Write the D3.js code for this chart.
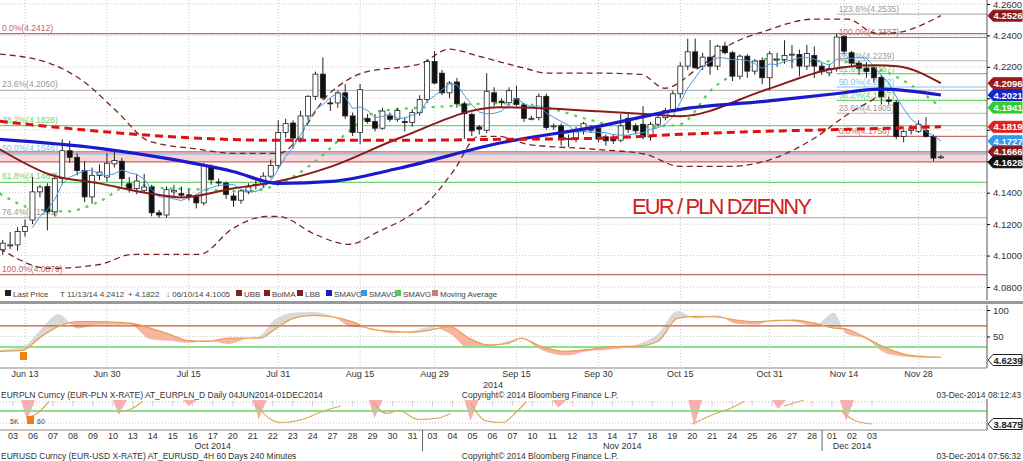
<!DOCTYPE html>
<html><head><meta charset="utf-8">
<script src="https://cdn.jsdelivr.net/npm/d3@7"></script>
<style>body{margin:0;background:#fff}svg{display:block;font-family:"Liberation Sans",Arial,sans-serif}</style>
</head><body>
<script>
// ---------- DATA ----------
const opens=[4.1037,4.1068,4.1068,4.1153,4.1226,4.1405,4.1440,4.1278,4.1489,4.1667,4.1625,4.1541,4.1373,4.1510,4.1499,4.1583,4.1600,4.1457,4.1426,4.1415,4.1436,4.1272,4.1258,4.1405,4.1394,4.1386,4.1373,4.1335,4.1566,4.1468,4.1461,4.1379,4.1352,4.1405,4.1453,4.1453,4.1505,4.1573,4.1783,4.1843,4.1747,4.1888,4.2013,4.2154,4.1971,4.1971,4.2035,4.1888,4.1783,4.1873,4.1852,4.1810,4.1888,4.1867,4.1852,4.1846,4.1909,4.1993,4.2234,4.2160,4.2035,4.2104,4.1965,4.1898,4.1818,4.1797,4.2035,4.1982,4.1972,4.1999,4.1957,4.1873,4.1877,4.2013,4.1825,4.1825,4.1741,4.1741,4.1793,4.1803,4.1810,4.1755,4.1751,4.1734,4.1873,4.1825,4.1835,4.1755,4.1835,4.1877,4.1929,4.2029,4.2205,4.2296,4.2205,4.2262,4.2205,4.2332,4.2290,4.2141,4.2268,4.2173,4.2241,4.2131,4.2247,4.2247,4.2279,4.2279,4.2205,4.2273,4.2205,4.2162,4.2192,4.2395,4.2290,4.2224,4.2192,4.2194,4.2134,4.1990,4.1975,4.1758,4.1795,4.1790,4.1796,4.1758,4.1625];
const highs=[4.1100,4.1150,4.1180,4.1230,4.1500,4.1450,4.1460,4.1520,4.1740,4.1730,4.1650,4.1600,4.1560,4.1580,4.1650,4.1660,4.1620,4.1500,4.1520,4.1520,4.1450,4.1290,4.1440,4.1450,4.1440,4.1420,4.1390,4.1590,4.1580,4.1490,4.1470,4.1400,4.1420,4.1460,4.1490,4.1530,4.1610,4.1860,4.1870,4.1860,4.1920,4.2020,4.2170,4.2260,4.2000,4.2050,4.2090,4.1910,4.2090,4.1900,4.1900,4.1940,4.1910,4.1940,4.1880,4.1930,4.2020,4.2250,4.2300,4.2180,4.2110,4.2130,4.1980,4.1910,4.1830,4.2160,4.2070,4.2000,4.2070,4.2080,4.1970,4.1890,4.2030,4.2030,4.1840,4.1840,4.1770,4.1820,4.1850,4.1830,4.1830,4.1770,4.1770,4.1900,4.1900,4.1840,4.1950,4.1850,4.1900,4.1940,4.2050,4.2230,4.2380,4.2380,4.2290,4.2370,4.2340,4.2360,4.2300,4.2280,4.2280,4.2250,4.2260,4.2300,4.2290,4.2370,4.2340,4.2310,4.2340,4.2330,4.2230,4.2220,4.2412,4.2400,4.2300,4.2240,4.2230,4.2200,4.2150,4.2010,4.1990,4.1800,4.1830,4.1860,4.1880,4.1770,4.1640];
const lows=[4.1005,4.1040,4.1030,4.1120,4.1200,4.1370,4.1160,4.1250,4.1460,4.1590,4.1510,4.1340,4.1330,4.1480,4.1470,4.1560,4.1440,4.1400,4.1390,4.1400,4.1250,4.1240,4.1240,4.1380,4.1370,4.1350,4.1300,4.1320,4.1450,4.1440,4.1360,4.1310,4.1330,4.1390,4.1420,4.1430,4.1490,4.1550,4.1750,4.1680,4.1720,4.1860,4.1990,4.1990,4.1920,4.1940,4.1870,4.1760,4.1710,4.1840,4.1790,4.1800,4.1850,4.1850,4.1790,4.1820,4.1890,4.1970,4.2090,4.2020,4.2000,4.1940,4.1740,4.1760,4.1770,4.1780,4.1950,4.1940,4.1950,4.1950,4.1850,4.1860,4.1860,4.1800,4.1800,4.1700,4.1690,4.1720,4.1770,4.1780,4.1720,4.1700,4.1710,4.1720,4.1780,4.1770,4.1740,4.1730,4.1820,4.1860,4.1910,4.2000,4.2180,4.2190,4.2180,4.2150,4.2180,4.2280,4.2110,4.2120,4.2130,4.2150,4.2090,4.2050,4.2200,4.2220,4.2190,4.2140,4.2180,4.2130,4.2150,4.2140,4.2170,4.2280,4.2200,4.2150,4.2130,4.2100,4.1960,4.1960,4.1740,4.1720,4.1770,4.1780,4.1750,4.1600,4.1615];
const closes=[4.1079,4.1068,4.1153,4.1184,4.1405,4.1436,4.1278,4.1489,4.1667,4.1625,4.1541,4.1373,4.1510,4.1531,4.1587,4.1604,4.1489,4.1426,4.1474,4.1436,4.1272,4.1258,4.1419,4.1415,4.1384,4.1379,4.1335,4.1573,4.1482,4.1466,4.1388,4.1352,4.1411,4.1436,4.1450,4.1505,4.1573,4.1783,4.1839,4.1747,4.1888,4.2013,4.2154,4.2003,4.1965,4.2035,4.1888,4.1783,4.2055,4.1852,4.1810,4.1919,4.1867,4.1923,4.1850,4.1909,4.1993,4.2234,4.2097,4.2035,4.2097,4.1965,4.1902,4.1793,4.1804,4.2045,4.1978,4.1972,4.2049,4.1961,4.1873,4.1873,4.2013,4.1814,4.1825,4.1741,4.1745,4.1793,4.1839,4.1803,4.1741,4.1730,4.1730,4.1825,4.1803,4.1793,4.1755,4.1835,4.1877,4.1923,4.2029,4.2205,4.2296,4.2194,4.2262,4.2205,4.2332,4.2290,4.2141,4.2268,4.2173,4.2237,4.2131,4.2283,4.2250,4.2273,4.2281,4.2205,4.2285,4.2205,4.2169,4.2190,4.2390,4.2300,4.2224,4.2192,4.2171,4.2130,4.2010,4.1981,4.1758,4.1790,4.1805,4.1835,4.1758,4.1620,4.1628];
// indicator lines: [bar number, value]
const smaLong=[[0.6,4.1739],[14,4.1682],[23,4.1618],[31.9,4.1535],[38,4.1459],[45.2,4.1472],[54.2,4.1555],[67.6,4.1714],[81,4.1822],[92,4.1930],[103.3,4.1981],[112.2,4.2026],[118.9,4.2058],[127,4.2021]];
const bolMA=[[0.6,4.1676],[7.3,4.1516],[14,4.1459],[20.7,4.1395],[25.1,4.1370],[31.9,4.1427],[38,4.1472],[45.2,4.1567],[54.2,4.1746],[67.6,4.1943],[81,4.1918],[87.7,4.1899],[92,4.1886],[103.3,4.2051],[112.2,4.2185],[118.2,4.2211],[121.2,4.2204],[127,4.2096]];
const movAvg=[[0.6,4.1854],[14,4.1790],[27.4,4.1746],[38,4.1733],[54.2,4.1733],[67.6,4.1739],[81,4.1746],[92,4.1771],[103.3,4.1790],[114.5,4.1803],[127,4.1819]];
const smaMid=[[0.6,4.1395],[5,4.1300],[9.6,4.1281],[14,4.1344],[18.4,4.1453],[23,4.1427],[27.4,4.1421],[34,4.1408],[38,4.1453],[43,4.1599],[47.5,4.1790],[51.5,4.1918],[60.9,4.1950],[67.2,4.1969],[71.6,4.1962],[80.6,4.1854],[85,4.1809],[89.4,4.1822],[92,4.1835],[96.4,4.2064],[100.8,4.2192],[103.3,4.2249],[107.8,4.2236],[112.2,4.2236],[118.2,4.2192],[122.6,4.2096],[127,4.1941]];
const upperBB=[[0.6,4.2281],[7.3,4.2223],[11.8,4.2109],[16.3,4.1918],[20.7,4.1727],[27.4,4.1676],[31.9,4.1650],[38,4.1650],[45.2,4.2045],[49.2,4.2160],[57.3,4.2223],[60.9,4.2313],[64.9,4.2268],[71.6,4.2185],[73.9,4.2160],[81,4.2160],[86.7,4.2153],[89.9,4.2064],[94.4,4.2192],[98.8,4.2344],[103.3,4.2427],[110,4.2504],[114.5,4.2504],[118.2,4.2415],[120.2,4.2415],[127,4.2526]];
const lowerBB=[[0.6,4.1045],[7.3,4.0918],[14,4.0943],[18.4,4.1007],[27.4,4.1007],[31.9,4.1172],[36.4,4.1249],[38,4.1249],[43,4.1134],[47.5,4.1071],[51.5,4.1153],[55.5,4.1249],[58.2,4.1344],[61.5,4.1535],[64.9,4.1758],[67.6,4.1758],[71.6,4.1707],[80.6,4.1676],[87.3,4.1644],[92,4.1567],[98.8,4.1567],[103.3,4.1599],[110,4.1746],[114.5,4.1899],[118.2,4.2001],[120.2,4.2058]];
const xTickLabels=["Jun 13","Jun 30","Jul 15","Jul 31","Aug 15","Aug 29","Sep 15","Sep 30","Oct 15","Oct 31","Nov 14","Nov 28"];
const yTicks=[4.08,4.10,4.12,4.14,4.16,4.18,4.20,4.22,4.24,4.26];
const fibLeft=[["0.0%",4.2412,"#b86a6a"],["23.6%",4.2050,"#b8b8b8"],["38.2%",4.1826,"#6fd36f"],["50.0%",4.1646,"#86c4ee"],["61.8%",4.1465,"#6fd36f"],["76.4%",4.1241,"#b8b8b8"],["100.0%",4.0879,"#b86a6a"]];
const fibRight=[["123.6%",4.2535,"#b8b8b8"],["100.0%",4.2387,"#c07070"],["76.4%",4.2239,"#b8b8b8"],["61.8%",4.2157,"#6fd36f"],["50.0%",4.2072,"#86c4ee"],["38.2%",4.1987,"#6fd36f"],["23.6%",4.1905,"#b8b8b8"],["0.0%",4.1758,"#c07070"]];
const band=[4.1596,4.1660];
const lastLabels=[[4.2526,"#8b1a1a"],[4.2096,"#9b1b1b"],[4.2021,"#1428c8"],[4.1941,"#33cc33"],[4.1819,"#e02020"],[4.1727,"#3399ee"],[4.1666,"#8b1a1a"],[4.1628,"#111"]];
// oscillator panel
const oscSlow=[[0.6,22],[3.7,24],[5.9,47],[8.5,69],[11.1,78],[13.8,78],[18.1,75],[20.8,66],[23.4,54],[26,42],[28.6,41],[31.3,47],[33.8,47],[35.6,47],[37.4,62],[40,84],[42.6,90],[45.3,87],[47.9,78],[50.5,64],[53.1,60],[55.8,58],[58.4,62],[61,69],[63.6,47],[66.2,34],[68.9,37],[70.6,47],[73.3,31],[76.8,22],[79.4,25],[82.9,31],[86.4,32],[89,41],[91.6,84],[94.2,88],[96.9,87],[99.5,81],[102.1,78],[104.8,80],[107.4,81],[110,75],[112.6,66],[114.3,64],[117,47],[119.7,28],[122.3,16],[124.9,12],[127,11]];
const oscFast=[[0.6,25],[3.7,30],[5.9,60],[8.5,92],[11.1,65],[13.8,72],[18.1,72],[20.8,45],[23.4,42],[26,38],[28.6,42],[31.3,36],[33.8,46],[35.6,52],[37.4,80],[40,95],[42.6,96],[45.3,88],[47.9,68],[50.5,66],[53.1,56],[55.8,60],[58.4,68],[61,56],[63.6,28],[66.2,30],[68.9,42],[70.6,46],[73.3,25],[76.8,14],[79.4,22],[82.9,26],[86.4,36],[89,55],[91.6,98],[94.2,84],[96.9,90],[99.5,74],[102.1,72],[104.8,82],[107.4,78],[110,70],[112.6,95],[114.3,55],[117,45],[119.7,18],[122.3,12],[124.9,10],[127,10]];
const oscLevels=[[70,"#b8603a"],[30,"#8ee08e"]];
// EURUSD strip
const usdDays=["03","06","07","08","09","10","13","14","15","16","17","20","21","22","23","24","27","28","29","30","31","03","04","05","06","07","10","11","12","13","14","17","18","19","20","21","24","25","26","27","28","01","02","03"];
const usdMonths=[["Oct 2014",0,20],["Nov 2014",21,40],["Dec 2014",41,43]];
const usdSegs=[[[0.65,40],[1.3,60],[1.8,95]],[[5.2,60],[5.9,70],[6.5,95]],[[12.1,90],[12.8,40],[13.4,25],[14.7,40],[15.4,60],[16.4,80]],[[18,95],[18.7,55],[19.3,65],[20.3,35],[21.3,40],[21.9,55]],[[22.9,90],[23.7,30],[24.5,25],[25.2,60],[25.7,95]],[[34,20],[35,50],[36,75],[36.6,95]],[[38.6,80],[39.6,100]],[[41.5,60],[42.2,30],[43,20]]];
const usdSpikes=[[0.4,30],[5,50],[8.5,80],[12,35],[17.8,40],[22.6,30],[27,75],[33.8,15],[38,70],[41.4,30]];

// ---------- CHART ----------
const W=1023,H=461,AX=987;
const svg=d3.select("body").append("svg").attr("width",W).attr("height",H);
const start=new Date(2014,5,10);
const dates=[];for(let d=new Date(start);dates.length<closes.length;d.setDate(d.getDate()+1)){if(d.getDay()%6)dates.push(new Date(d));}
const fmt2=d=>d3.timeFormat("%b")(d)+" "+(+d3.timeFormat("%d")(d));
const x=d3.scaleLinear().domain([1,closes.length]).range([2.7,940.9]);
const y=d3.scaleLinear().domain([4.08,4.26]).range([287,4]);
const tickIdx=xTickLabels.map(l=>dates.findIndex(d=>fmt2(d)===l)+1);

const g=svg.append("g");
g.selectAll(".hg").data(yTicks).join("line").attr("x1",0).attr("x2",AX).attr("y1",d=>y(d)).attr("y2",d=>y(d)).attr("stroke","#c8c8c8").attr("stroke-dasharray","1,2");
g.selectAll(".vg").data(tickIdx).join("line").attr("x1",d=>x(d)).attr("x2",d=>x(d)).attr("y1",0).attr("y2",300).attr("stroke","#c8c8c8").attr("stroke-dasharray","1,2");
g.append("rect").attr("x",0).attr("width",AX).attr("y",y(band[1])).attr("height",y(band[0])-y(band[1])).attr("fill","#f9d6d6");
band.forEach(v=>g.append("line").attr("x1",0).attr("x2",AX).attr("y1",y(v)).attr("y2",y(v)).attr("stroke","#d06060").attr("stroke-width",1.2));
fibLeft.forEach(([l,v,c])=>{g.append("line").attr("x1",0).attr("x2",AX).attr("y1",y(v)).attr("y2",y(v)).attr("stroke",c).attr("stroke-width",1.3);
 g.append("text").attr("x",2).attr("y",y(v)-3).attr("font-size",8.5).attr("fill",c==="#b8b8b8"?"#999":c).text(`${l}(${v.toFixed(4)})`);});
fibRight.forEach(([l,v,c])=>{g.append("line").attr("x1",x(113)).attr("x2",AX).attr("y1",y(v)).attr("y2",y(v)).attr("stroke",c).attr("stroke-width",1.2);
 g.append("text").attr("x",x(113)+2).attr("y",y(v)-2).attr("font-size",8.5).attr("fill",c==="#b8b8b8"?"#999":c).text(`${l}(${v.toFixed(4)})`);});

const ln=d3.line().x(d=>x(d[0])).y(d=>y(d[1])).curve(d3.curveMonotoneX);
[upperBB,lowerBB].forEach(s=>svg.append("path").attr("d",ln(s)).attr("fill","none").attr("stroke","#7b2424").attr("stroke-width",1.3).attr("stroke-dasharray","6,4"));
svg.append("path").attr("d",ln(smaMid)).attr("fill","none").attr("stroke","#4fd04f").attr("stroke-width",2.2).attr("stroke-dasharray","3,6");

const cw=5;
const cg=svg.append("g");
closes.forEach((c,i)=>{const o=opens[i],n=i+1,up=c>=o;
 cg.append("line").attr("x1",x(n)).attr("x2",x(n)).attr("y1",y(highs[i])).attr("y2",y(lows[i])).attr("stroke","#222");
 cg.append("rect").attr("x",x(n)-cw/2).attr("width",cw).attr("y",y(Math.max(o,c))).attr("height",Math.max(1,Math.abs(y(o)-y(c)))).attr("fill",up?"#fff":"#111").attr("stroke","#222").attr("stroke-width",0.8);});
const sma5=closes.map((c,i)=>i<4?null:[i+1,d3.mean(closes.slice(i-4,i+1))]).filter(Boolean);
svg.append("path").attr("d",d3.line().x(d=>x(d[0])).y(d=>y(d[1]))(sma5)).attr("fill","none").attr("stroke","#4a9ae0").attr("stroke-width",1);
svg.append("path").attr("d",ln(bolMA)).attr("fill","none").attr("stroke","#8b1a1a").attr("stroke-width",2);
svg.append("path").attr("d",ln(smaLong)).attr("fill","none").attr("stroke","#1a1acc").attr("stroke-width",3.2);
svg.append("path").attr("d",ln(movAvg)).attr("fill","none").attr("stroke","#dd1111").attr("stroke-width",3).attr("stroke-dasharray","8,5");

svg.append("text").attr("x",632).attr("y",214).attr("font-size",22).attr("fill","#d02020").attr("textLength",180).text("EUR / PLN DZIENNY");

// right axis
svg.append("rect").attr("x",AX).attr("y",0).attr("width",W-AX).attr("height",H).attr("fill","#fff");
svg.append("line").attr("x1",AX).attr("x2",AX).attr("y1",0).attr("y2",300).attr("stroke","#555");
// tag positions (nudged apart like the terminal does)
const tagY=lastLabels.map(d=>y(d[0]));
for(let i=1;i<tagY.length;i++) if(tagY[i]-tagY[i-1]<10.5) tagY[i]=tagY[i-1]+10.5;
const visTicks=yTicks.filter(t=>tagY.every(ty=>Math.abs(ty-y(t))>9));
const ax=svg.append("g").attr("transform",`translate(${AX},0)`).call(d3.axisRight(y).tickValues(yTicks).tickFormat(d=>visTicks.includes(d)?d3.format(".4f")(d):"").tickSize(3));
ax.select(".domain").remove();ax.selectAll("text").attr("font-size",9.5).attr("fill","#333");
const tag=(yy,txt,bg,fg,border)=>{const gg=svg.append("g").attr("transform",`translate(${AX+1},${yy})`);
 gg.append("path").attr("d","M0,0 L5,-5.5 H34 V5.5 H5 Z").attr("fill",bg).attr("stroke",border||bg);
 gg.append("text").attr("x",20).attr("y",3.5).attr("text-anchor","middle").attr("font-size",9.5).attr("font-weight","bold").attr("fill",fg).text(txt);};
lastLabels.forEach(([v,bg],i)=>tag(tagY[i],v.toFixed(4),bg,"#fff"));

// legend row
const lg=svg.append("g").attr("font-size",8).attr("fill","#444");
const legend=[[5,"#222","Last Price"],[60,null,"T 11/13/14 4.2412"],[128,null,"+ 4.1822"],[166,null,"↓ 06/10/14 4.1005"],[236,"#7b2424","UBB"],[264,"#8b1a1a","BolMA"],[297,"#7b2424","LBB"],[326,"#1a1acc","SMAVG"],[361,"#3399ee","SMAVG"],[395,"#4fd04f","SMAVG"],[432,"#c08080","Moving Average"]];
legend.forEach(([lx,c,t])=>{if(c){lg.append("rect").attr("x",lx).attr("y",290).attr("width",6).attr("height",6).attr("fill",c);lg.append("text").attr("x",lx+8).attr("y",296.5).text(t);}else lg.append("text").attr("x",lx).attr("y",296.5).text(t);});
svg.append("rect").attr("x",0).attr("y",301).attr("width",W).attr("height",3).attr("fill","#999");

// oscillator panel
const yo=d3.scaleLinear().domain([0,100]).range([363,310]);
const p=svg.append("g");
[100,50].forEach(v=>p.append("line").attr("x1",0).attr("x2",AX).attr("y1",yo(v)).attr("y2",yo(v)).attr("stroke","#c8c8c8").attr("stroke-dasharray","1,2"));
p.selectAll(".ovg").data(tickIdx).join("line").attr("x1",d=>x(d)).attr("x2",d=>x(d)).attr("y1",305).attr("y2",368).attr("stroke","#c8c8c8").attr("stroke-dasharray","1,2");
const oscArea=d3.area().x(d=>x(d[0])).y0((d,i)=>yo(oscSlow[i][1])).y1(d=>yo(d[1])).curve(d3.curveMonotoneX);
const lo=d3.line().x(d=>x(d[0])).y(d=>yo(d[1])).curve(d3.curveMonotoneX);
const defs=svg.append("defs");
defs.append("clipPath").attr("id","above").append("path").attr("d",d3.area().x(d=>x(d[0])).y0(yo(100)-5).y1(d=>yo(d[1])).curve(d3.curveMonotoneX)(oscSlow));
defs.append("clipPath").attr("id","below").append("path").attr("d",d3.area().x(d=>x(d[0])).y0(yo(0)+5).y1(d=>yo(d[1])).curve(d3.curveMonotoneX)(oscSlow));
p.append("path").attr("d",oscArea(oscFast)).attr("fill","#d9d9d9").attr("clip-path","url(#above)");
p.append("path").attr("d",oscArea(oscFast)).attr("fill","#f8b4a0").attr("clip-path","url(#below)");
oscLevels.forEach(([v,c])=>p.append("line").attr("x1",0).attr("x2",AX).attr("y1",yo(v)).attr("y2",yo(v)).attr("stroke",c).attr("stroke-width",v===30?2:1.3));
p.append("path").attr("d",lo(oscSlow)).attr("fill","none").attr("stroke","#e6a050").attr("stroke-width",1.3);
p.append("rect").attr("x",20).attr("y",352).attr("width",7).attr("height",8).attr("fill","#f08010");
svg.append("line").attr("x1",AX).attr("x2",AX).attr("y1",305).attr("y2",368).attr("stroke","#555");
const ao=svg.append("g").attr("transform",`translate(${AX},0)`).call(d3.axisRight(yo).tickValues([100,50]).tickSize(3));
ao.select(".domain").remove();ao.selectAll("text").attr("font-size",9.5).attr("fill","#333");
tag(360,"4.6239","#fff","#222","#222");
svg.append("line").attr("x1",0).attr("x2",AX).attr("y1",368).attr("y2",368).attr("stroke","#888");
svg.selectAll(".xl").data(xTickLabels).join("text").attr("x",(d,i)=>x(tickIdx[i])).attr("y",377).attr("text-anchor","middle").attr("font-size",9).attr("fill","#333").text(d=>d);
svg.append("text").attr("x",493).attr("y",388).attr("text-anchor","middle").attr("font-size",9).attr("fill","#333").text("2014");
const info=(yy,a,b,c)=>{svg.append("text").attr("x",1).attr("y",yy).attr("font-size",8.5).attr("fill","#333").text(a);
 svg.append("text").attr("x",540).attr("y",yy).attr("text-anchor","middle").attr("font-size",8.5).attr("fill","#333").text(b);
 svg.append("text").attr("x",1021).attr("y",yy).attr("text-anchor","end").attr("font-size",8.5).attr("fill","#333").text(c);};
info(398,"EURPLN Curncy (EUR-PLN X-RATE) AT_EURPLN_D  Daily 04JUN2014-01DEC2014","Copyright© 2014 Bloomberg Finance L.P.","03-Dec-2014 08:12:43");

// EURUSD strip
const xu=d3.scaleLinear().domain([0,usdDays.length-1]).range([13,872]);
const yu=d3.scaleLinear().domain([0,100]).range([430,400]);
const s=svg.append("g");
[402,423].forEach(yy=>s.append("line").attr("x1",0).attr("x2",AX).attr("y1",yy).attr("y2",yy).attr("stroke","#bbb").attr("stroke-dasharray","1,2"));
usdDays.forEach((d,i)=>s.append("line").attr("x1",xu(i)).attr("x2",xu(i)).attr("y1",401).attr("y2",407).attr("stroke","#aaa").attr("stroke-dasharray","1,1"));
usdSpikes.forEach(([i,v])=>s.append("path").attr("d",`M${xu(i)},${yu(100)} L${xu(i+0.3)},${yu(v)} L${xu(i+0.7)},${yu(100)} Z`).attr("fill","#f6b0b0"));
s.append("line").attr("x1",0).attr("x2",AX).attr("y1",411).attr("y2",411).attr("stroke","#8ee08e").attr("stroke-width",2);
const lu=d3.line().x(d=>xu(d[0])).y(d=>yu(d[1])).curve(d3.curveMonotoneX);
usdSegs.forEach(sg=>s.append("path").attr("d",lu(sg)).attr("fill","none").attr("stroke","#d9a860").attr("stroke-width",1.2));
s.append("text").attr("x",10).attr("y",424).attr("font-size",7).attr("fill","#444").text("5K");
s.append("rect").attr("x",27).attr("y",416).attr("width",7).attr("height",8).attr("fill","#f08010");
s.append("text").attr("x",37).attr("y",424).attr("font-size",7).attr("fill","#444").text("60");
svg.append("line").attr("x1",AX).attr("x2",AX).attr("y1",399).attr("y2",430).attr("stroke","#555");
tag(424,"3.8475","#fff","#222","#222");
svg.append("line").attr("x1",0).attr("x2",AX).attr("y1",430).attr("y2",430).attr("stroke","#888");
usdDays.forEach((d,i)=>svg.append("text").attr("x",xu(i)).attr("y",439).attr("text-anchor","middle").attr("font-size",9).attr("fill","#333").text(d));
usdMonths.forEach(([t,a,b])=>{svg.append("text").attr("x",xu((a+b)/2)).attr("y",449).attr("text-anchor","middle").attr("font-size",9).attr("fill","#333").text(t);
 if(a>0)svg.append("line").attr("x1",xu(a-0.5)).attr("x2",xu(a-0.5)).attr("y1",430).attr("y2",451).attr("stroke","#666");});
info(459,"EURUSD Curncy (EUR-USD X-RATE) AT_EURUSD_4H 60 Days 240 Minutes","Copyright© 2014 Bloomberg Finance L.P.","03-Dec-2014 07:56:32");
</script></body></html>
